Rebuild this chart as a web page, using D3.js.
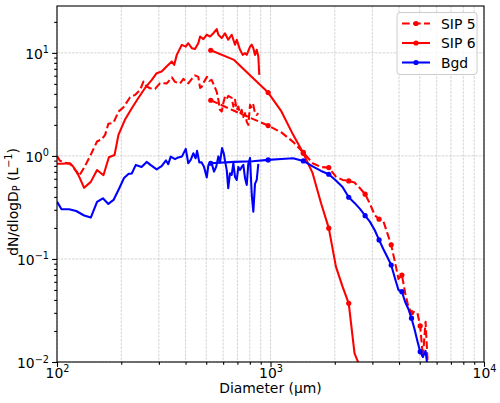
<!DOCTYPE html>
<html>
<head>
<meta charset="utf-8">
<script src="https://cdnjs.cloudflare.com/ajax/libs/d3/7.8.5/d3.min.js"></script>
<style>
body{margin:0;background:#fff;}
text{font-family:"DejaVu Sans",sans-serif;fill:#000;}
</style>
</head>
<body>
<div id="chart"></div>
<script>
//fine probe bins (um) and values (L-1)
var sip5_fine_diam = [100,103,109,115,124,127,135,145,154,162,168,174,184,194,205,220,232,245,254,263,
    273,288,304,327,345,357,377,391,412,428,443,459,468,476,488,504,517,530,540,560,
    570,580,591,601,612,624,634,646,658,670,682,695,707,720,733,746,760,774,787,802,
    817,831,846,862,877];
var sip5_fine = [1.00,0.90,0.86,0.84,0.70,0.64,0.79,1.06,1.38,1.45,1.60,2.05,2.10,2.69,2.97,3.71,3.91,4.37,5.27,4.71,
    4.54,4.47,5.08,5.06,5.78,5.23,5.06,5.59,5.06,5.59,6.05,5.85,4.57,4.68,5.23,5.85,5.35,5.47,5.00,4.18,
    3.50,2.80,2.69,3.25,3.76,3.58,3.82,3.74,3.66,3.01,3.50,2.80,3.01,2.56,2.80,2.39,2.60,2.14,2.00,3.13,
    2.90,3.13,2.60,2.50,2.60];

var sip6_fine_diam = [100,105,115,119,126,134,144,154,165,175,186,194,208,224,240,258,278,293,309,326,
    345,354,364,384,401,412,428,443,459,468,485,503,521,540,560,570,591,612,634,658,
    682,695,720,741,760,774,802,817,831,846,862,877,886];
var sip6_fine = [0.84,0.84,0.85,0.79,0.65,0.49,0.56,0.73,0.65,0.97,1.02,1.6,2.24,2.9,3.63,4.54,5.47,6.35,6.58,7.36,
    8.23,7.65,9.56,11.96,11.5,12.4,11.1,10.9,12.4,14.4,13.6,15.0,14.4,15.5,17.0,15.0,13.9,15.5,13.4,15.0,
    12.0,13.4,10.7,9.56,9.93,9.56,11.5,12.0,11.1,9.56,10.7,9.21,6.11];

var bgd_fine_diam = [100,105,114,123,134,144,154,164,174,184,195,206,216,224,234,249,263,274,293,309,
    324,332,341,357,370,385,401,412,423,435,446,453,464,476,488,503,512,530,544,557,
    570,580,593,604,616,624,634,646,658,670,682,695,707,720,733,746,760,774,787,802,
    817,831,846,862,877];
var bgd_fine = [0.360,0.304,0.304,0.292,0.264,0.252,0.358,0.388,0.342,0.374,0.478,0.611,0.669,0.676,0.818,0.782,0.875,0.818,0.740,0.794,
    0.904,0.831,0.984,0.929,0.967,0.989,1.17,0.849,0.915,1.06,0.950,1.12,0.865,0.865,0.787,0.618,0.818,0.849,0.704,0.787,
    0.989,0.865,1.19,1.06,0.836,0.723,0.486,0.679,0.654,0.849,0.625,0.585,0.782,0.731,0.782,0.818,0.607,0.523,0.836,0.956,
    0.418,0.288,0.535,0.585,0.836];

//coarse probe bins (um) and values (L-1)
var hvps_diam = [525,675,825,975,1125,1275,1425,1575,1725,1875,2025,2175,2325,2475,2625,2775,2925,
    3075,3225,3375,3525,3675,3825,3975,4125,4275,4425,4575,4725,4875,5025,5175,5325,5475];
var sip5_hvps = [3.47,2.74,2.29,1.97,1.69,1.37,1.08,0.85,0.78,0.77,0.63,0.585,0.572,0.551,0.486,0.425,0.342,
    0.267,0.243,0.234,0.178,0.137,0.094,0.064,0.0699,0.0465,0.0344,0.0301,0.0305,0.0301,0.0224,0.0112,0.0246,0.008];
var sip6_hvps = [10.6,8.55,5.74,4.12,2.70,1.61,1.06,0.68,0.347,0.199,0.0842,0.0538,0.0371,0.0121,0.009];
var bgd_hvps = [0.849,0.875,0.888,0.915,0.935,0.950,0.894,0.791,0.715,0.664,0.578,0.50,0.397,0.350,0.306,0.263,0.229,
    0.191,0.153,0.125,0.1046,0.0874,0.0654,0.050,0.0481,0.0382,0.0327,0.0266,0.0209,0.016,0.0126,0.0112,0.0128,0.008];

var series_names = ['SIP 5', 'SIP 6', 'Bgd'];
var series_colors = ['#ff0000', '#ff0000', '#0000ff'];
var series_dash = ['7.7,3.3', null, null];

var x_major = [100, 1000, 10000];
var x_exps = ['2', '3', '4'];
var y_major = [0.01, 0.1, 1, 10];
var y_exps = ['\u22122', '\u22121', '0', '1'];

//width and height
var chart_width = 500;
var chart_height = 403;
var margin = {left: 57, right: 16, top: 6, bottom: 41};

var x = d3.scaleLog()
          .domain([100, 10000])
          .range([margin.left, chart_width - margin.right]);

var y = d3.scaleLog()
          .domain([0.01, 28.5])
          .range([chart_height - margin.bottom, margin.top]);

var x_minor = [];
[100, 1000].forEach(function(dec){
    for(var k = 2; k < 10; k++){ x_minor.push(dec * k); }
});
var y_minor = [];
[0.01, 0.1, 1, 10].forEach(function(dec){
    for(var k = 2; k < 10; k++){
        if(dec * k <= 28.5){ y_minor.push(dec * k); }
    }
});

var svg = d3.select('#chart')
            .append('svg')
            .attr('width', chart_width)
            .attr('height', chart_height);

svg.append('rect')
    .attr('width', chart_width)
    .attr('height', chart_height)
    .attr('fill', '#fff');

svg.append('clipPath')
    .attr('id', 'plot_clip')
    .append('rect')
    .attr('x', margin.left)
    .attr('y', margin.top)
    .attr('width', chart_width - margin.left - margin.right)
    .attr('height', chart_height - margin.top - margin.bottom);

//grid
var grid = svg.append('g')
              .attr('stroke', '#b0b0b0')
              .attr('stroke-width', 0.7)
              .attr('stroke-dasharray', '2.6,1.1')
              .attr('opacity', 0.75);

grid.selectAll('.vgrid')
    .data(x_major.concat(x_minor))
    .enter()
    .append('line')
    .attr('x1', function(d){ return x(d); })
    .attr('x2', function(d){ return x(d); })
    .attr('y1', margin.top)
    .attr('y2', chart_height - margin.bottom);

grid.selectAll('.hgrid')
    .data(y_major)
    .enter()
    .append('line')
    .attr('y1', function(d){ return y(d); })
    .attr('y2', function(d){ return y(d); })
    .attr('x1', margin.left)
    .attr('x2', chart_width - margin.right);

//data lines
var line = d3.line()
             .x(function(d){ return x(d[0]); })
             .y(function(d){ return y(d[1]); });

var plot = svg.append('g').attr('clip-path', 'url(#plot_clip)');

var fine_sets = [
    d3.zip(sip5_fine_diam, sip5_fine),
    d3.zip(sip6_fine_diam, sip6_fine),
    d3.zip(bgd_fine_diam, bgd_fine)
];
var hvps_sets = [
    d3.zip(hvps_diam, sip5_hvps),
    d3.zip(hvps_diam, sip6_hvps),
    d3.zip(hvps_diam, bgd_hvps)
];

series_names.forEach(function(name, i){
    [fine_sets[i], hvps_sets[i]].forEach(function(pts){
        plot.append('path')
            .datum(pts)
            .attr('d', line)
            .attr('fill', 'none')
            .attr('stroke', series_colors[i])
            .attr('stroke-width', 2.08)
            .attr('stroke-linejoin', 'round')
            .attr('stroke-dasharray', series_dash[i]);
    });

    plot.selectAll('.m' + i)
        .data(hvps_sets[i].filter(function(d, j){ return j % 3 === 0; }))
        .enter()
        .append('circle')
        .attr('cx', function(d){ return x(d[0]); })
        .attr('cy', function(d){ return y(d[1]); })
        .attr('r', 2.6)
        .attr('fill', series_colors[i]);
});

//axes
function sup_label(sel, exps){
    sel.each(function(d, i){
        var t = d3.select(this);
        t.text(null);
        t.append('tspan').text('10');
        t.append('tspan')
         .attr('dy', -5.5)
         .attr('font-size', 9.7)
         .text(exps[i]);
    });
}

var no_text = function(){ return ''; };
var bottom_y = chart_height - margin.bottom;

var x_axis = svg.append('g')
    .attr('transform', 'translate(0,' + bottom_y + ')')
    .call(d3.axisBottom(x).tickValues(x_major).tickSize(4.9).tickPadding(4).tickFormat(no_text));
svg.append('g')
    .attr('transform', 'translate(0,' + bottom_y + ')')
    .call(d3.axisBottom(x).tickValues(x_minor).tickSize(2.8).tickFormat(no_text));

var y_axis = svg.append('g')
    .attr('transform', 'translate(' + margin.left + ',0)')
    .call(d3.axisLeft(y).tickValues(y_major).tickSize(4.9).tickPadding(4).tickFormat(no_text));
svg.append('g')
    .attr('transform', 'translate(' + margin.left + ',0)')
    .call(d3.axisLeft(y).tickValues(y_minor).tickSize(2.8).tickFormat(no_text));

svg.selectAll('.domain').remove();
svg.selectAll('.tick line').attr('stroke', '#000').attr('stroke-width', 1.1);

x_axis.selectAll('.tick text')
    .attr('font-size', 13.9)
    .attr('dy', 0)
    .attr('y', 15.5)
    .attr('fill', '#000')
    .call(sup_label, x_exps);

y_axis.selectAll('.tick text')
    .attr('font-size', 13.9)
    .attr('dy', 0)
    .attr('y', 5.5)
    .attr('x', -8)
    .attr('fill', '#000')
    .call(sup_label, y_exps);

//frame
svg.append('rect')
    .attr('x', margin.left)
    .attr('y', margin.top)
    .attr('width', chart_width - margin.left - margin.right)
    .attr('height', chart_height - margin.top - margin.bottom)
    .attr('fill', 'none')
    .attr('stroke', '#000')
    .attr('stroke-width', 1.1);

//labels
svg.append('text')
    .attr('x', (margin.left + chart_width - margin.right) / 2)
    .attr('y', 393)
    .attr('text-anchor', 'middle')
    .attr('font-size', 13.9)
    .text('Diameter (\u00b5m)');

var ylab = svg.append('text')
    .attr('transform', 'translate(17.5,202) rotate(-90)')
    .attr('font-size', 13.9);
ylab.append('tspan').text('dN/dlogD');
ylab.append('tspan').attr('font-size', 9.7).attr('dy', 2.5).text('P');
ylab.append('tspan').attr('dy', -2.5).text(' (L');
ylab.append('tspan').attr('font-size', 9.7).attr('dy', -5.5).text('\u22121');
ylab.append('tspan').attr('dy', 5.5).text(')');
// center the whole label on y = 202
var ylab_w = ylab.node().getBBox().width;
ylab.attr('x', -ylab_w / 2);

//legend
var legend = svg.append('g');
legend.append('rect')
    .attr('x', 397)
    .attr('y', 12.5)
    .attr('width', 80)
    .attr('height', 62)
    .attr('rx', 3)
    .attr('fill', '#fff')
    .attr('fill-opacity', 0.8)
    .attr('stroke', '#cccccc')
    .attr('stroke-width', 1);

var rows = legend.selectAll('.row')
    .data(series_names)
    .enter()
    .append('g')
    .attr('transform', function(d, i){ return 'translate(0,' + (23.5 + i * 19.5) + ')'; });

rows.append('line')
    .attr('x1', 402)
    .attr('x2', 430)
    .attr('stroke', function(d, i){ return series_colors[i]; })
    .attr('stroke-width', 2.08)
    .attr('stroke-dasharray', function(d, i){ return series_dash[i]; });

rows.append('circle')
    .attr('cx', 416)
    .attr('r', 2.6)
    .attr('fill', function(d, i){ return series_colors[i]; });

rows.append('text')
    .attr('x', 441)
    .attr('y', 5)
    .attr('font-size', 13.9)
    .text(function(d){ return d; });
</script>
</body>
</html>
